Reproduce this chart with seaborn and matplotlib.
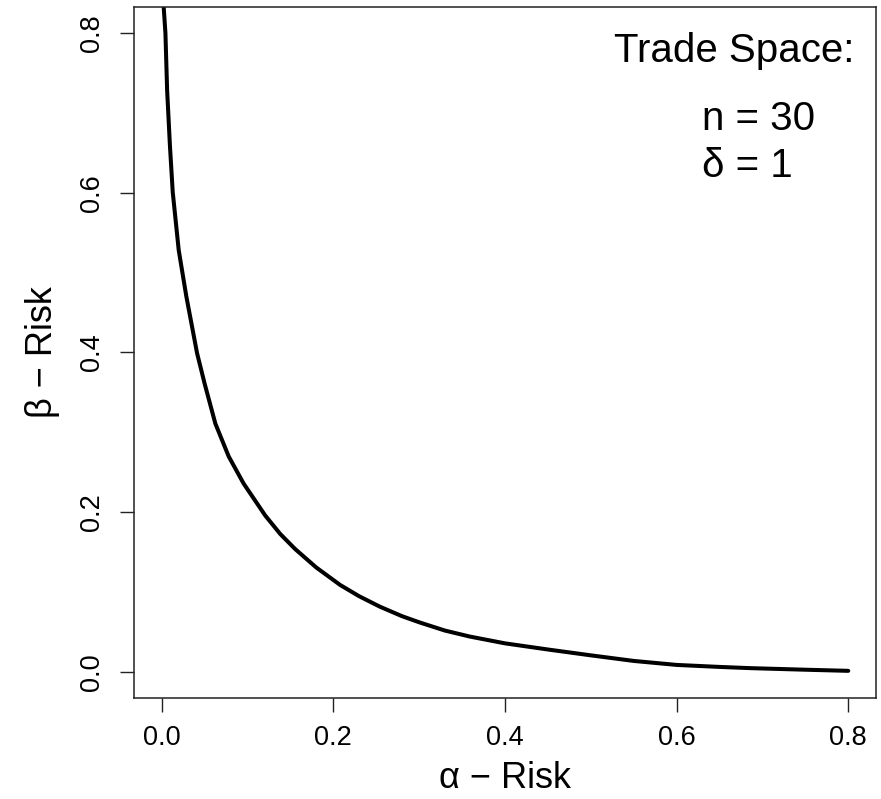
import numpy as np
import pandas as pd
import matplotlib
matplotlib.use("Agg")
import matplotlib.pyplot as plt
import seaborn as sns

# ---------------------------
# Data
# ---------------------------
alpha_risk = [0.0015, 0.0023, 0.0043, 0.0063, 0.0095, 0.0128, 0.0198, 0.0287,
              0.0412, 0.050, 0.0625, 0.078, 0.0954, 0.1206, 0.138, 0.1555,
              0.180, 0.208, 0.230, 0.254, 0.280, 0.301, 0.330, 0.359,
              0.400, 0.452, 0.500, 0.550, 0.600, 0.650, 0.685, 0.750, 0.800]
beta_risk = [0.850, 0.832, 0.800, 0.728, 0.660, 0.601, 0.528, 0.470,
             0.399, 0.361, 0.311, 0.270, 0.236, 0.196, 0.173, 0.154,
             0.131, 0.109, 0.095, 0.082, 0.070, 0.062, 0.052, 0.0445,
             0.036, 0.028, 0.021, 0.0140, 0.0090, 0.0065, 0.0050, 0.0030, 0.0016]

tick_values = [0.0, 0.2, 0.4, 0.6, 0.8]
tick_labels = ["0.0", "0.2", "0.4", "0.6", "0.8"]

legend_title = "Trade Space:"
legend_lines = ["n = 30", "\u03b4 = 1"]

# ---------------------------
# Style
# ---------------------------
sns.set_style("white")
plt.rcParams["font.family"] = ["Liberation Sans", "DejaVu Sans"]
plt.rcParams["text.color"] = "black"

df = pd.DataFrame({"alpha": alpha_risk, "beta": beta_risk})

fig = plt.figure(figsize=(8.81, 7.99), dpi=100)
ax = fig.add_axes([0.1524, 0.1268, 0.8416, 0.8641])

sns.lineplot(data=df, x="alpha", y="beta", color="black", linewidth=2.9,
             sort=True, ax=ax)

ax.set_xlim(-0.032, 0.832)
ax.set_ylim(-0.032, 0.832)

ax.set_xticks(tick_values)
ax.set_xticklabels(tick_labels, fontsize=19.5, color="black")
ax.set_yticks(tick_values)
ax.set_yticklabels(tick_labels, fontsize=19.5, rotation=90, va="center",
                   color="black")
ax.tick_params(axis="both", direction="out", length=10, width=1,
               color="#222222", bottom=True, left=True)
ax.tick_params(axis="x", pad=10)
ax.tick_params(axis="y", pad=11)

for sp in ax.spines.values():
    sp.set_visible(True)
    sp.set_color("#222222")
    sp.set_linewidth(1.1)

ax.set_xlabel("\u03b1 \u2212 Risk", fontsize=26, labelpad=7, color="black")
ax.set_ylabel("\u03b2 \u2212 Risk", fontsize=26, labelpad=14, color="black")

# annotation block in the upper right
ax.text(0.807, 0.763, legend_title, fontsize=29, ha="right", va="baseline")
ax.text(0.629, 0.678, legend_lines[0], fontsize=29, ha="left", va="baseline")
ax.text(0.629, 0.619, legend_lines[1], fontsize=29, ha="left", va="baseline")

fig.savefig("out.png", dpi=100)
